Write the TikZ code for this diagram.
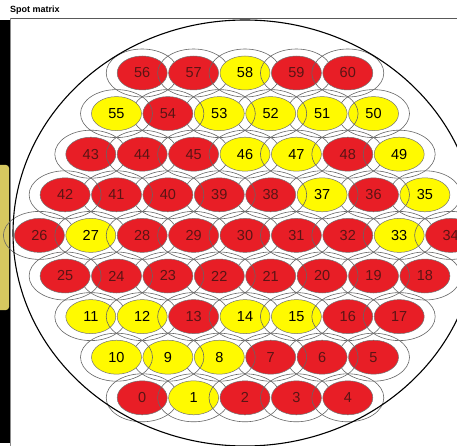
\documentclass[tikz,border=0pt]{standalone}
\usepackage{fontspec}
\setmainfont{Liberation Sans}
\usetikzlibrary{shapes.geometric}
\definecolor{spotred}{RGB}{232,30,38}
\definecolor{spotyellow}{RGB}{255,250,0}
\definecolor{redtext}{RGB}{90,20,20}
\definecolor{padyellow}{RGB}{214,200,96}
\tikzset{
  spot/.style={ellipse, draw=black!55, line width=0.5pt, minimum width=50pt, minimum height=34pt, inner sep=0pt, font=\fontsize{14.5}{15}\selectfont},
  ring/.style={draw=black!60, line width=0.6pt},
}
\begin{document}
\begin{tikzpicture}[x=1pt, y=-1pt]
  \clip (0,0) rectangle (457,446);
  \fill[white] (0,0) rectangle (457,446);
  % Title and window frame
  \node[anchor=base west, font=\bfseries\fontsize{9}{10}\selectfont, inner sep=0pt] (title) at (10,13) {Spot matrix};
  \fill[black] (0,20) rectangle (10,443);
  \fill[padyellow, rounded corners=3pt] (-5,165) rectangle (9,310);
  \draw[black!65, line width=1.5pt] (10,18.5) -- (457,18.5);
  \draw[black!45, line width=1.5pt] (10.5,18) -- (10.5,446);

  % yellow flags for spots 0..60
  \def\yelflags{{0,1,0,0,0, 0,0,0,1,1,1, 1,1,0,1,1,0,0, 0,0,0,0,0,0,0,0, 0,1,0,0,0,0,0,1,0, 1,0,1,0,0,0,0,0, 0,0,0,1,1,0,1, 1,1,1,1,0,1, 0,0,1,0,0}}
  % rows: row / lowest index / count / direction
  \foreach \r/\lo/\n/\dir in {8/0/5/1, 7/5/6/-1, 6/11/7/1, 5/18/8/-1, 4/26/9/1, 3/35/8/-1, 2/43/7/1, 1/50/6/-1, 0/56/5/1} {
    \foreach \m in {1,...,\n} {
      \pgfmathtruncatemacro{\idx}{\lo+\m-1}
      \pgfmathsetmacro{\col}{\dir==1 ? \m-1 : \n-\m}
      \pgfmathsetmacro{\px}{245+(\col-(\n-1)/2)*51.4}
      \pgfmathsetmacro{\py}{73+\r*40.6}
      \pgfmathtruncatemacro{\yel}{\yelflags[\idx]}
      \ifnum\yel=1
        \node[spot, fill=spotyellow, text=black] (s\idx) at (\px,\py) {\idx};
      \else
        \node[spot, fill=spotred, text=redtext] (s\idx) at (\px,\py) {\idx};
      \fi
      \draw[ring] (s\idx.center) ellipse [x radius=36pt, y radius=24pt];
    }
  }
  % Wafer outline
  \draw[black, line width=1.1pt] (245,233) ellipse [x radius=232pt, y radius=213pt];
\end{tikzpicture}
\end{document}
